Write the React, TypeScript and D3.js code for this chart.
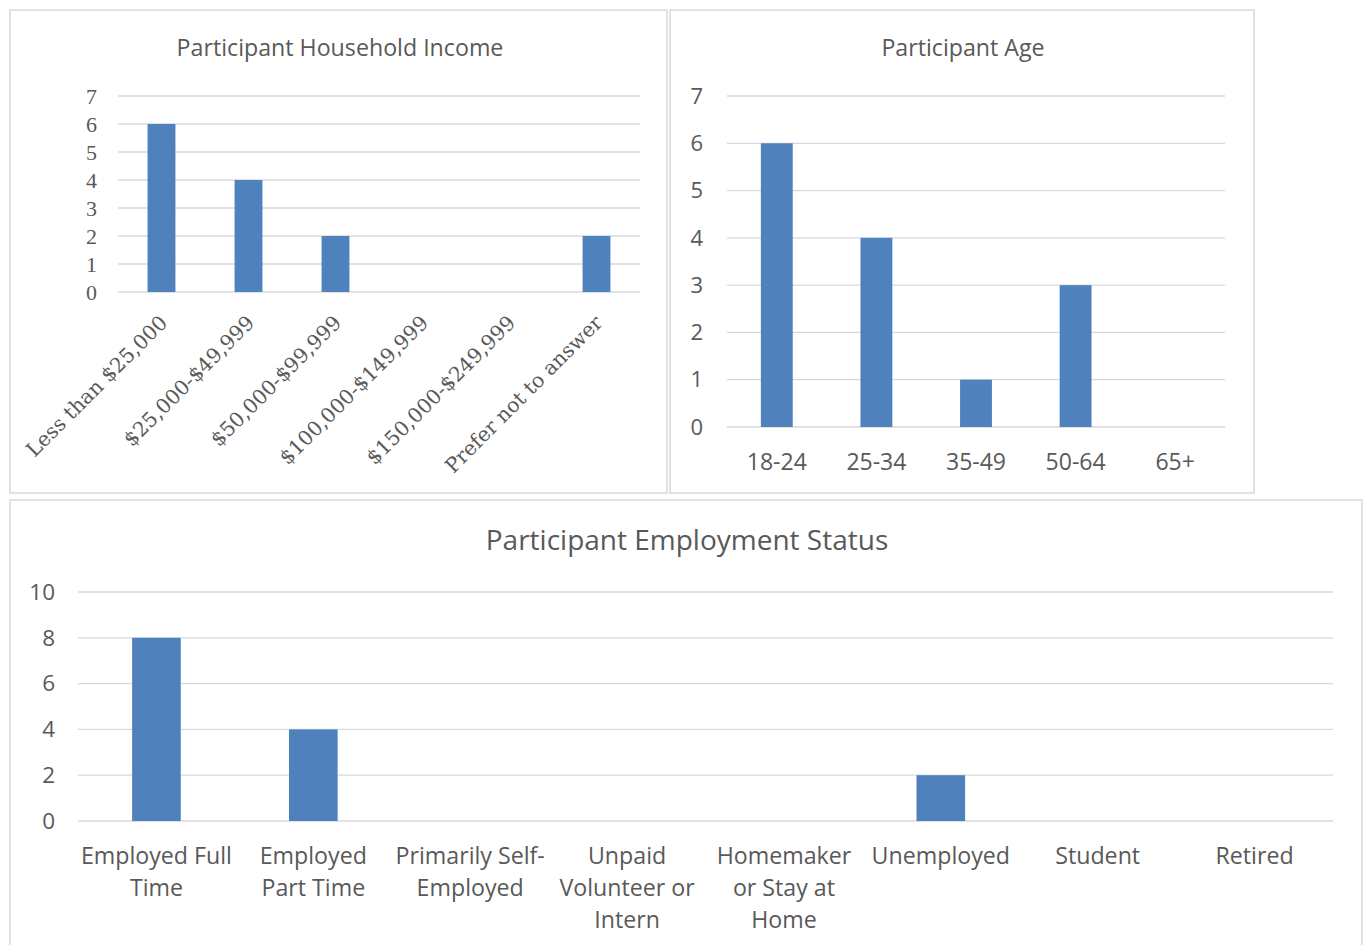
import React from "react";
import * as d3 from "d3";

const incomeCategories = [
  "Less than $25,000",
  "$25,000-$49,999",
  "$50,000-$99,999",
  "$100,000-$149,999",
  "$150,000-$249,999",
  "Prefer not to answer",
];
const incomeValues = [6, 4, 2, 0, 0, 2];
const incomeTicks = [0, 1, 2, 3, 4, 5, 6, 7];

const ageCategories = ["18-24", "25-34", "35-49", "50-64", "65+"];
const ageValues = [6, 4, 1, 3, 0];
const ageTicks = [0, 1, 2, 3, 4, 5, 6, 7];

const employmentCategories = [
  ["Employed Full", "Time"],
  ["Employed", "Part Time"],
  ["Primarily Self-", "Employed"],
  ["Unpaid", "Volunteer or", "Intern"],
  ["Homemaker", "or Stay at", "Home"],
  ["Unemployed"],
  ["Student"],
  ["Retired"],
];
const employmentValues = [8, 4, 0, 0, 0, 2, 0, 0];
const employmentTicks = [0, 2, 4, 6, 8, 10];

const BAR = "#4F81BD";
const GRID = "#D9D9D9";
const TEXT = "#595959";
const SANS = "'Open Sans', Lato, sans-serif";
const SERIF = "'DejaVu Serif', 'Liberation Serif', serif";
const SERIF_Y = "'Liberation Serif', 'DejaVu Serif', serif";

type PanelProps = {
  box: [number, number, number, number];
  title: string;
  titleX: number;
  titleY: number;
  titleSize: number;
  categories: (string | string[])[];
  values: number[];
  ticks: number[];
  plot: { x0: number; x1: number; y0: number; y1: number };
  barRatio: number;
  yFont: string;
  ySize: number;
  yLabelX: number;
  xMode: "rotated" | "lines";
  xFont: string;
  xSize: number;
  xLabelY: number;
  lineHeight?: number;
};

function Panel(p: PanelProps) {
  const keys = p.categories.map((_, i) => String(i));
  const x = d3.scaleBand<string>().domain(keys).range([p.plot.x0, p.plot.x1]).paddingInner(0).paddingOuter(0);
  const y = d3
    .scaleLinear()
    .domain([0, d3.max(p.ticks) as number])
    .range([p.plot.y1, p.plot.y0]);
  const bw = x.bandwidth() * p.barRatio;
  const [bx, by, bwid, bh] = p.box;
  return (
    <g>
      <rect x={bx} y={by} width={bwid} height={bh} fill="#fff" stroke={GRID} strokeWidth={1.5} />
      <text x={p.titleX} y={p.titleY} textAnchor="middle" fontFamily={SANS} fontSize={p.titleSize} fill={TEXT}>
        {p.title}
      </text>
      {p.ticks.map((t) => (
        <g key={t}>
          <line x1={p.plot.x0} x2={p.plot.x1} y1={y(t)} y2={y(t)} stroke={GRID} strokeWidth={1.3} />
          <text x={p.yLabelX} y={y(t)} dy="0.35em" textAnchor="end" fontFamily={p.yFont} fontSize={p.ySize} fill={TEXT}>
            {t}
          </text>
        </g>
      ))}
      {p.values.map((v, i) =>
        v > 0 ? (
          <rect
            key={i}
            x={(x(String(i)) as number) + (x.bandwidth() - bw) / 2}
            y={y(v)}
            width={bw}
            height={y(0) - y(v)}
            fill={BAR}
          />
        ) : null
      )}
      {p.categories.map((c, i) => {
        const cx = (x(String(i)) as number) + x.bandwidth() / 2;
        if (p.xMode === "rotated") {
          return (
            <text
              key={i}
              transform={`translate(${cx + 2},${p.xLabelY}) rotate(-45)`}
              textAnchor="end"
              dy="0.35em"
              fontFamily={p.xFont}
              fontSize={p.xSize}
              fill={TEXT}
            >
              {c as string}
            </text>
          );
        }
        const lines = Array.isArray(c) ? c : [c];
        return (
          <text key={i} textAnchor="middle" fontFamily={p.xFont} fontSize={p.xSize} fill={TEXT}>
            {lines.map((l, j) => (
              <tspan key={j} x={cx} y={p.xLabelY + j * (p.lineHeight || 0)}>
                {l}
              </tspan>
            ))}
          </text>
        );
      })}
    </g>
  );
}

export default function App() {
  return (
    <div style={{ position: "absolute", left: 0, top: 0 }}>
      <svg width={1368} height={945} style={{ display: "block" }}>
        <rect width={1368} height={945} fill="#fff" />
        <Panel
          box={[10, 10, 657, 483]}
          title="Participant Household Income"
          titleX={340}
          titleY={56}
          titleSize={23.2}
          categories={incomeCategories}
          values={incomeValues}
          ticks={incomeTicks}
          plot={{ x0: 118, x1: 640, y0: 96, y1: 292 }}
          barRatio={0.32}
          yFont={SERIF_Y}
          ySize={22}
          yLabelX={97}
          xMode="rotated"
          xFont={SERIF}
          xSize={20.3}
          xLabelY={319}
        />
        <Panel
          box={[670, 10, 584, 483]}
          title="Participant Age"
          titleX={963}
          titleY={56}
          titleSize={23.2}
          categories={ageCategories}
          values={ageValues}
          ticks={ageTicks}
          plot={{ x0: 727, x1: 1225, y0: 96, y1: 427 }}
          barRatio={0.32}
          yFont={SANS}
          ySize={22}
          yLabelX={703}
          xMode="lines"
          xFont={SANS}
          xSize={23}
          xLabelY={470}
        />
        <Panel
          box={[10, 500, 1352, 460]}
          title="Participant Employment Status"
          titleX={687}
          titleY={550}
          titleSize={28}
          categories={employmentCategories}
          values={employmentValues}
          ticks={employmentTicks}
          plot={{ x0: 78, x1: 1333, y0: 592, y1: 821 }}
          barRatio={0.31}
          yFont={SANS}
          ySize={22.5}
          yLabelX={55}
          xMode="lines"
          xFont={SANS}
          xSize={23.2}
          xLabelY={864}
          lineHeight={32}
        />
      </svg>
    </div>
  );
}
